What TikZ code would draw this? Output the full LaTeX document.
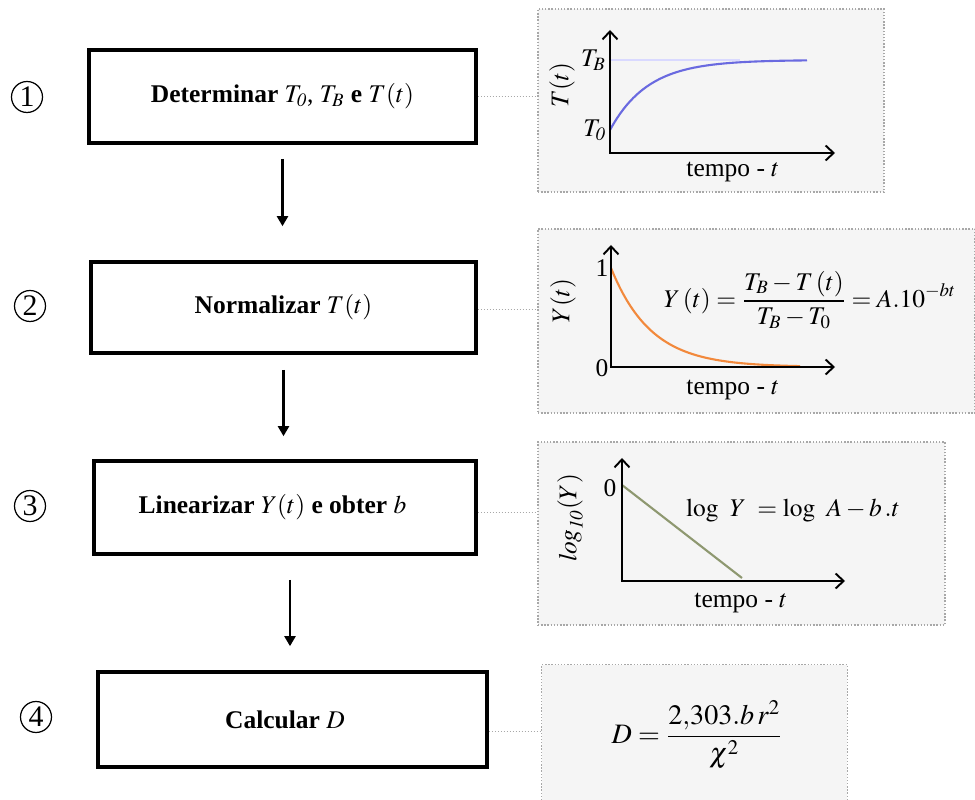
\documentclass[tikz,border=0pt]{standalone}
\usepackage{mathptmx}
\usepackage[no-math]{fontspec}
\setmainfont{Liberation Serif}
\usetikzlibrary{arrows.meta,calc,fit}
\definecolor{panelfill}{HTML}{F5F5F5}
\definecolor{panelline}{HTML}{A8A8A8}
\definecolor{tblue}{HTML}{6A6AE0}
\definecolor{torange}{HTML}{F2893C}
\definecolor{tolive}{HTML}{8E9870}
\tikzset{
  every node/.style={font=\fontsize{14.5}{17}\selectfont},
  stepbox/.style={draw, line width=2.1pt, inner sep=0pt},
  flow/.style={line width=1.3pt, -{Triangle[length=0.2cm,width=0.22cm]}},
  conn/.style={densely dotted, panelline, line width=0.7pt},
  panel/.style={fill=panelfill, draw=panelline, densely dotted, line width=0.8pt, inner sep=0pt},
  axis/.style={line width=1.1pt, {Straight Barb[length=0.16cm,width=0.3cm]}-{Straight Barb[length=0.16cm,width=0.3cm]}},
  num/.style={circle, draw, line width=0.7pt, minimum size=0.62cm, inner sep=0pt, font=\fontsize{17}{20}\selectfont},
}
\begin{document}
\begin{tikzpicture}[x=0.02cm,y=-0.02cm]
\useasboundingbox (0,0) rectangle (975,800);

% circled numbers
\node[num] (n1) at (27,97) {1};
\node[num] (n2) at (30,306) {2};
\node[num] (n3) at (30,506) {3};
\node[num] (n4) at (36,717) {4};

% step boxes
\node[stepbox, minimum width=7.74cm, minimum height=1.86cm] (b1) at (282.5,96.5)
  {\textbf{Determinar} $T_{\mathit{0}}$, $T_{\mathit{B}}$ \textbf{e} $T(t)$};
\node[stepbox, minimum width=7.70cm, minimum height=1.82cm] (b2) at (283.5,307.5)
  {\textbf{Normalizar} $T(t)$};
\node[stepbox, minimum width=7.64cm, minimum height=1.86cm] (b3) at (285,507.5)
  {\hspace*{-0.5cm}\textbf{Linearizar} $Y(t)$ \textbf{e obter} $b$};
\node[stepbox, minimum width=7.78cm, minimum height=1.90cm] (b4) at (292.5,719.5)
  {\hspace*{-0.3cm}\textbf{Calcular} $D$};

% flow arrows
\draw[flow, shorten <=0.28cm, shorten >=0.68cm] (b1.south) -- (b1.south |- b2.north);
\draw[flow, shorten <=0.30cm, shorten >=0.46cm] (b2.south) -- (b2.south |- b3.north);
\coordinate (a3) at ($(b3.south)+(5,0)$);
\draw[flow, shorten <=0.48cm, shorten >=0.48cm] (a3) -- (a3 |- b4.north);

% panels
\node[panel, fit={(538,9) (884,192)}] (p1) {};
\node[panel, fit={(538,229) (975,413)}] (p2) {};
\node[panel, fit={(538,442) (945,625)}] (p3) {};
\node[fill=panelfill, inner sep=0pt, fit={(542,665) (847,800)}] (p4) {};
\draw[panelline, densely dotted, line width=0.8pt] (p4.south west) -- (p4.north west) -- (p4.north east) -- (p4.south east);

% dotted connectors
\draw[conn] (b1.east) -- (b1.east -| p1.west);
\coordinate (c2) at ($(b2.east)+(0,2)$);
\draw[conn] (c2) -- (c2 -| p2.west);
\coordinate (c3) at ($(b3.east)+(0,5)$);
\draw[conn] (c3) -- (c3 -| p3.west);
\coordinate (c4) at ($(b4.east)+(0,12)$);
\draw[conn] (c4) -- (c4 -| p4.west);

% panel 1 plot
\draw[blue!15, line width=0.6pt] (610,60) -- (740,60);
\draw[tblue, line width=1.2pt] plot[domain=610:807, samples=60] (\x, {130-70*(1-exp(-(\x-610)/38))});
\draw[axis] (610,30) -- (610,153) -- (835,153);
\node[anchor=east, inner sep=1pt] (tb) at (608,60) {$T_{\mathit{B}}$};
\node[anchor=east, inner sep=1pt] (t0) at (608,130) {$T_{\mathit{0}}$};
\node[rotate=90] (ty) at (562,85) {$T(t)$};
\node (tx1) at (733,172) {tempo - $t$};

% panel 2 plot
\draw[torange, line width=1.2pt] plot[domain=611:800, samples=60] (\x, {367-99*exp(-(\x-611)/40)});
\draw[axis] (611,245) -- (611,367) -- (835,367);
\node (y1) at (602,268) {1};
\node (y0) at (602,368) {0};
\node[rotate=90] (yy) at (563,301) {$Y(t)$};
\node (tx2) at (733,390) {tempo - $t$};
\node (eq2) at (810,300) {$\displaystyle Y\,(t) = \frac{T_B - T\,(t)}{T_B - T_0} = A.10^{-bt}$};

% panel 3 plot
\draw[tolive, line width=1.2pt] (622,485) -- (742,578);
\draw[axis] (622,458) -- (622,581) -- (845,581);
\node (l0) at (610,488) {0};
\node[rotate=90] (ly) at (570,518) {$\mathit{log}_{\mathit{10}}(Y)$};
\node (tx3) at (741,603) {tempo - $t$};
\node (eq3) at (793,510) {$\log\;\,Y\; = \log\;\,A - b\,.t$};

% panel 4 formula
\node[font=\fontsize{16}{19}\selectfont] (eq4) at (697,735) {$\displaystyle D = \frac{2{,}303.b\,r^2}{\chi^2}$};
\end{tikzpicture}
\end{document}
